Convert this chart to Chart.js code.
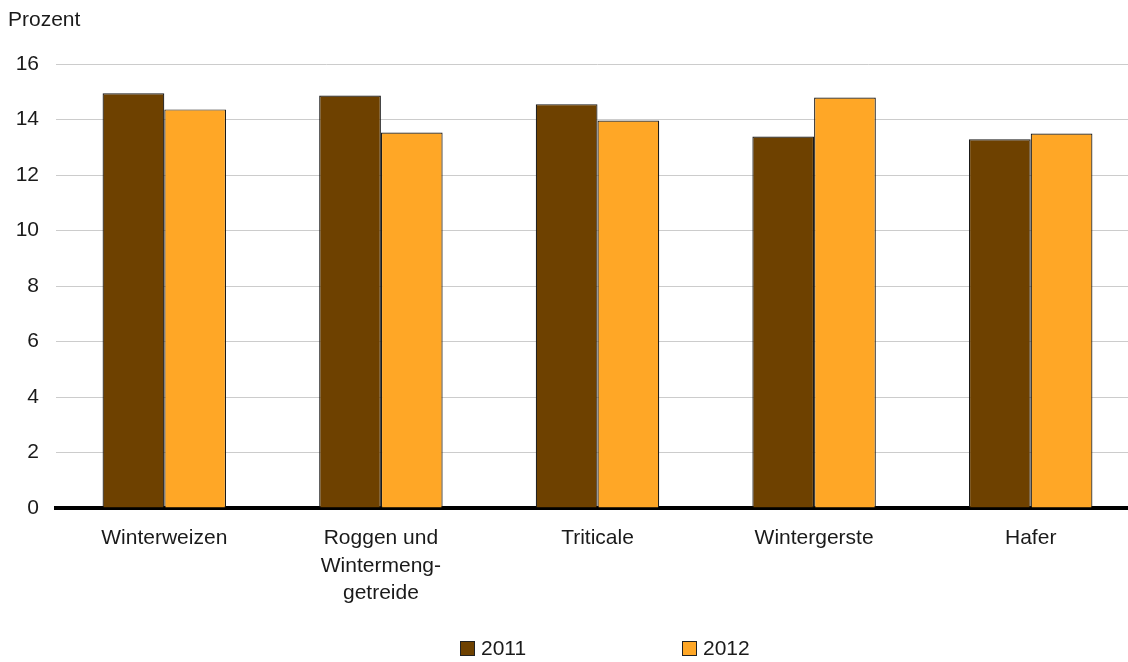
<!DOCTYPE html>
<html>
<head>
<meta charset="utf-8">
<script src="https://cdn.jsdelivr.net/npm/chart.js@4/dist/chart.umd.min.js"></script>
<style>
  html, body { margin: 0; padding: 0; background: #fff; overflow: hidden; }
  #wrap { position: relative; width: 1128px; height: 662px; overflow: hidden; }
  #chart { position: absolute; left: 0; top: 0; }
  #legend { position: absolute; top: 636px; left: 460px; font-family: "Liberation Sans", Arial, sans-serif; font-size: 21px; line-height: 24px; color: #1a1a1a; }
  .item { position: absolute; top: 0; white-space: nowrap; display: flex; align-items: center; }
  .box { width: 13px; height: 13px; border: 1px solid #222; margin-right: 6px; }
</style>
</head>
<body>
<div id="wrap">
  <canvas id="chart" width="1139" height="662"></canvas>
  <div id="legend"></div>
</div>
<script>
// categories
const categories = [
  "Winterweizen",
  ["Roggen und", "Wintermeng-", "getreide"],
  "Triticale",
  "Wintergerste",
  "Hafer",
];
// series
const years = ["2011", "2012"];
const values2011 = [14.95, 14.87, 14.56, 13.39, 13.29];
const values2012 = [14.37, 13.54, 13.97, 14.80, 13.50];
const seriesColors = ["#6e4100", "#ffa726"];
// y ticks
const yMin = 0, yMax = 16, yStep = 2;

const fontFamily = '"Liberation Sans", Arial, sans-serif';
const textColor = "#1a1a1a";

const ctx = document.getElementById("chart");
const chart = new Chart(ctx, {
  type: "bar",
  data: {
    labels: categories,
    datasets: [
      { label: years[0], data: values2011, backgroundColor: seriesColors[0], borderColor: "#1a1a1a", borderWidth: 1.2 },
      { label: years[1], data: values2012, backgroundColor: seriesColors[1], borderColor: "#1a1a1a", borderWidth: 1.2 },
    ],
  },
  options: {
    responsive: false,
    animation: false,
    layout: { padding: { left: 8, right: 0, top: 8, bottom: 0 } },
    datasets: { bar: { categoryPercentage: 0.57, barPercentage: 1.0 } },
    plugins: {
      legend: { display: false },
      tooltip: { enabled: false },
      title: {
        display: true,
        text: "Prozent",
        align: "start",
        color: textColor,
        font: { family: fontFamily, size: 21, weight: "normal", lineHeight: 1.2 },
        padding: { top: 0, bottom: 31 },
      },
    },
    scales: {
      x: {
        grid: { display: false, drawTicks: false },
        border: { display: true, color: "#000", width: 4 },
        ticks: {
          color: textColor,
          font: { family: fontFamily, size: 21, lineHeight: 1.3 },
          padding: 17,
          maxRotation: 0,
          autoSkip: false,
        },
        afterFit: (scale) => { scale.height = 154; },
      },
      y: {
        min: yMin,
        max: yMax,
        grid: { color: "#cccccc", lineWidth: 1, drawTicks: false },
        border: { display: false },
        ticks: {
          stepSize: yStep,
          color: textColor,
          font: { family: fontFamily, size: 21 },
          padding: 17,
        },
        afterFit: (scale) => { scale.width = 48; },
      },
    },
  },
});

// legend
const legendDiv = document.getElementById("legend");
chart.data.datasets.forEach((ds, i) => {
  const item = document.createElement("div");
  item.className = "item";
  item.style.left = i * 222 + "px";
  item.innerHTML = `<span class="box" style="background:${ds.backgroundColor}"></span><span>${ds.label}</span>`;
  legendDiv.append(item);
});
</script>
</body>
</html>
